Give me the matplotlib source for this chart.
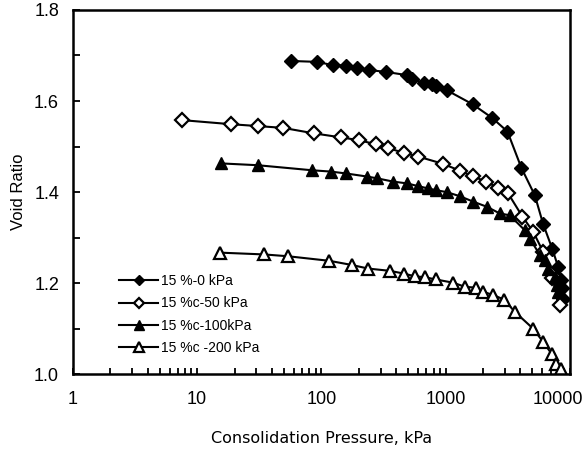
import matplotlib
matplotlib.use("Agg")
import matplotlib.pyplot as plt
import matplotlib.transforms as mtransforms
from matplotlib.ticker import LogLocator, FixedLocator, NullFormatter, FuncFormatter

# 15 %-0 kPa
p_0 = [57, 92, 123, 157, 194, 243, 330, 485, 532, 672, 785, 845, 1018, 1648,
       2370, 3150, 4080, 5230, 6100, 7260, 8050, 8570, 8700, 8830]
e_0 = [1.688, 1.686, 1.679, 1.678, 1.673, 1.668, 1.664, 1.657, 1.648, 1.640,
       1.637, 1.633, 1.624, 1.593, 1.563, 1.533, 1.453, 1.393, 1.330, 1.274,
       1.236, 1.207, 1.189, 1.166]

# 15 %c-50 kPa
p_50 = [7.6, 18.9, 30.7, 49.3, 87, 145, 200, 275, 341, 464, 602, 955, 1302,
        1648, 2110, 2650, 3190, 4160, 5070, 6100, 7200, 8300]
e_50 = [1.558, 1.549, 1.545, 1.541, 1.529, 1.520, 1.514, 1.505, 1.497, 1.486,
        1.478, 1.462, 1.447, 1.435, 1.423, 1.409, 1.397, 1.346, 1.313, 1.269,
        1.212, 1.152]

# 15 %c-100kPa
p_100 = [15.5, 30.7, 83.4, 119, 157, 235, 283, 379, 491, 602, 724, 845, 1018,
         1302, 1667, 2137, 2735, 3290, 4345, 4770, 5740, 6290, 6690, 7570,
         7900, 8100]
e_100 = [1.463, 1.459, 1.448, 1.445, 1.441, 1.434, 1.430, 1.423, 1.419, 1.413,
         1.408, 1.404, 1.400, 1.391, 1.379, 1.368, 1.353, 1.349, 1.316, 1.298,
         1.262, 1.251, 1.232, 1.214, 1.196, 1.180]

# 15 %c -200 kPa
p_200 = [15.2, 34.7, 54, 116, 175, 238, 356, 461, 566, 681, 835, 1150, 1430,
         1752, 2005, 2415, 2950, 3610, 5070, 6100, 7130, 7720, 8470]
e_200 = [1.267, 1.263, 1.259, 1.249, 1.240, 1.232, 1.227, 1.221, 1.215, 1.213,
         1.208, 1.201, 1.192, 1.190, 1.181, 1.174, 1.164, 1.137, 1.100, 1.071,
         1.045, 1.023, 1.012]

labels = ["15 %-0 kPa", "15 %c-50 kPa", "15 %c-100kPa", "15 %c -200 kPa"]

fig = plt.figure(figsize=(5.88, 4.53), dpi=100)
ax = fig.add_axes([0.124, 0.174, 0.845, 0.804])

lw = 1.5
ax.plot(p_0, e_0, color="black", lw=lw, marker="D", ms=7,
        mfc="black", mec="black", mew=1.0, label=labels[0])
ax.plot(p_50, e_50, color="black", lw=lw, marker="D", ms=7,
        mfc="white", mec="black", mew=1.6, label=labels[1])
ax.plot(p_100, e_100, color="black", lw=lw, marker="^", ms=9,
        mfc="black", mec="black", mew=1.0, label=labels[2])
ax.plot(p_200, e_200, color="black", lw=lw, marker="^", ms=9,
        mfc="white", mec="black", mew=1.6, label=labels[3])

ax.set_xscale("log")
ax.set_xlim(1, 10000)
ax.set_ylim(1.0, 1.8)
ax.xaxis.set_major_locator(FixedLocator([1, 10, 100, 1000, 10000]))
ax.xaxis.set_major_formatter(FuncFormatter(lambda v, pos: f"{v:g}"))
ax.xaxis.set_minor_locator(LogLocator(base=10, subs=range(2, 10)))
ax.xaxis.set_minor_formatter(NullFormatter())
ax.set_yticks([1.0, 1.2, 1.4, 1.6, 1.8])
ax.set_yticks([1.1, 1.3, 1.5, 1.7], minor=True)
ax.yaxis.set_major_formatter(FuncFormatter(lambda v, pos: f"{v:.1f}"))

for s in ax.spines.values():
    s.set_linewidth(1.8)

ax.tick_params(axis="x", which="both", direction="in", length=4, width=1.3,
               pad=12, labelsize=13)
ax.tick_params(axis="y", which="both", direction="in", length=5, width=1.3,
               pad=10, labelsize=13)
for t in ax.get_xticklabels() + ax.get_yticklabels():
    t.set_fontfamily("Liberation Sans")

# last x label sits left of its tick so it stays inside the figure
last = ax.get_xticklabels()[-1]
last.set_transform(last.get_transform() +
                   mtransforms.ScaledTranslation(-12 / 100, 0, fig.dpi_scale_trans))

ax.set_xlabel("Consolidation Pressure, kPa", fontsize=11.5,
              fontfamily="DejaVu Sans", labelpad=17)
ax.set_ylabel("Void Ratio", fontsize=12, fontfamily="Liberation Sans", labelpad=6)

leg = ax.legend(loc="lower left", bbox_to_anchor=(0.068, 0.018), frameon=False,
                prop={"family": "Liberation Sans", "size": 10},
                handlelength=2.8, handletextpad=0.2, labelspacing=0.6,
                markerscale=0.8)

fig.savefig("out.png", dpi=100)
